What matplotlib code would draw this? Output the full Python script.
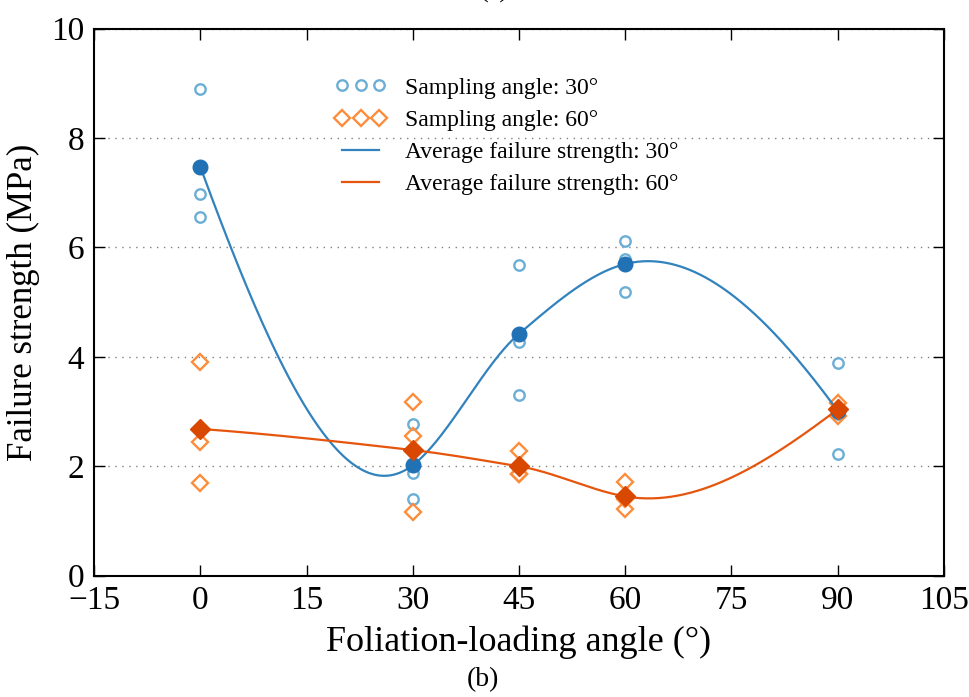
import numpy as np
import matplotlib.pyplot as plt

# foliation-loading angles and individual test results (MPa)
angles = [0, 30, 45, 60, 90]
s30_tests = [
    [8.90, 6.97, 6.55],
    [2.78, 1.88, 1.40],
    [5.68, 4.28, 3.30],
    [6.12, 5.78, 5.19],
    [3.88, 2.95, 2.22],
]
s60_tests = [
    [3.90, 2.45, 1.70],
    [3.17, 2.55, 1.17],
    [2.28, 1.86, 1.86],
    [1.72, 1.41, 1.22],
    [3.15, 3.05, 2.92],
]


def akima(x, y, xs):
    """Akima interpolation through (x, y), evaluated at xs."""
    x = np.asarray(x, float)
    y = np.asarray(y, float)
    n = len(x)
    h = np.diff(x)
    m = np.empty(n + 3)
    m[2:-2] = np.diff(y) / h
    m[1] = 2 * m[2] - m[3]
    m[0] = 2 * m[1] - m[2]
    m[-2] = 2 * m[-3] - m[-4]
    m[-1] = 2 * m[-2] - m[-3]
    dm = np.abs(np.diff(m))
    f1, f2 = dm[2:], dm[:-2]
    f12 = f1 + f2
    t = 0.5 * (m[3:] + m[:-3])
    ok = f12 > 1e-9 * f12.max()
    t[ok] = (f1[ok] * m[1:-2][ok] + f2[ok] * m[2:-1][ok]) / f12[ok]
    # cubic Hermite pieces
    i = np.clip(np.searchsorted(x, xs) - 1, 0, n - 2)
    s = (xs - x[i]) / h[i]
    h00 = 2 * s ** 3 - 3 * s ** 2 + 1
    h10 = s ** 3 - 2 * s ** 2 + s
    h01 = -2 * s ** 3 + 3 * s ** 2
    h11 = s ** 3 - s ** 2
    return h00 * y[i] + h10 * h[i] * t[i] + h01 * y[i + 1] + h11 * h[i] * t[i + 1]


plt.rcParams['font.family'] = 'Liberation Serif'

fig = plt.figure(figsize=(9.7, 6.97), dpi=100)
ax = fig.add_axes([0.097, 0.174, 0.876, 0.785])

mean30 = [np.mean(v) for v in s30_tests]
mean60 = [np.mean(v) for v in s60_tests]
xs = np.linspace(0, 90, 400)

c30_open, c30_fill, c30_line = '#6baed6', '#2171b5', '#3182bd'
c60_open, c60_fill, c60_line = '#fd8d3c', '#d94801', '#e6550d'

for a, vals in zip(angles, s30_tests):
    ax.plot([a] * len(vals), vals, 'o', ms=7.5, mfc='none', mec=c30_open, mew=1.7)
for a, vals in zip(angles, s60_tests):
    ax.plot([a] * len(vals), vals, 'D', ms=8.5, mfc='none', mec=c60_open, mew=1.7)

ax.plot(xs, akima(angles, mean30, xs), color=c30_line, lw=1.6)
ax.plot(xs, akima(angles, mean60, xs), color=c60_line, lw=1.6)
ax.plot(angles, mean30, 'o', ms=10.5, color=c30_fill)
ax.plot(angles, mean60, 'D', ms=10.5, color=c60_fill)

# legend handles
h1, = ax.plot([], [], 'o', ms=7.5, mfc='none', mec=c30_open, mew=1.7)
h2, = ax.plot([], [], 'D', ms=8.5, mfc='none', mec=c60_open, mew=1.7)
h3, = ax.plot([], [], color=c30_line, lw=1.6)
h4, = ax.plot([], [], color=c60_line, lw=1.6)
ax.legend([h1, h2, h3, h4],
          ['Sampling angle: 30°', 'Sampling angle: 60°',
           'Average failure strength: 30°', 'Average failure strength: 60°'],
          loc='upper left', bbox_to_anchor=(0.258, 0.95), frameon=False,
          numpoints=3, fontsize=17, handlelength=2.2, labelspacing=0.45)

ax.set_xlim(-15, 105)
ax.set_ylim(0, 10)
ax.set_xticks(np.arange(-15, 106, 15))
ax.set_yticks(np.arange(0, 11, 2))
ax.set_xticklabels(['\u221215'] + [str(v) for v in range(0, 106, 15)])
ax.yaxis.grid(True, linestyle=(0, (1, 4)), color='gray', lw=1)
ax.tick_params(direction='in', top=True, right=True, length=8, width=1,
               labelsize=24, pad=7)
for s in ax.spines.values():
    s.set_linewidth(1.5)

ax.set_xlabel('Foliation-loading angle (°)', fontsize=26, labelpad=7)
ax.set_ylabel('Failure strength (MPa)', fontsize=25, labelpad=8)

fig.text(0.498, 0.025, '(b)', ha='center', va='center', fontsize=20)
fig.text(0.51, 1.012, '(a)', ha='center', va='center', fontsize=19)

fig.savefig('out.png', dpi=100)
